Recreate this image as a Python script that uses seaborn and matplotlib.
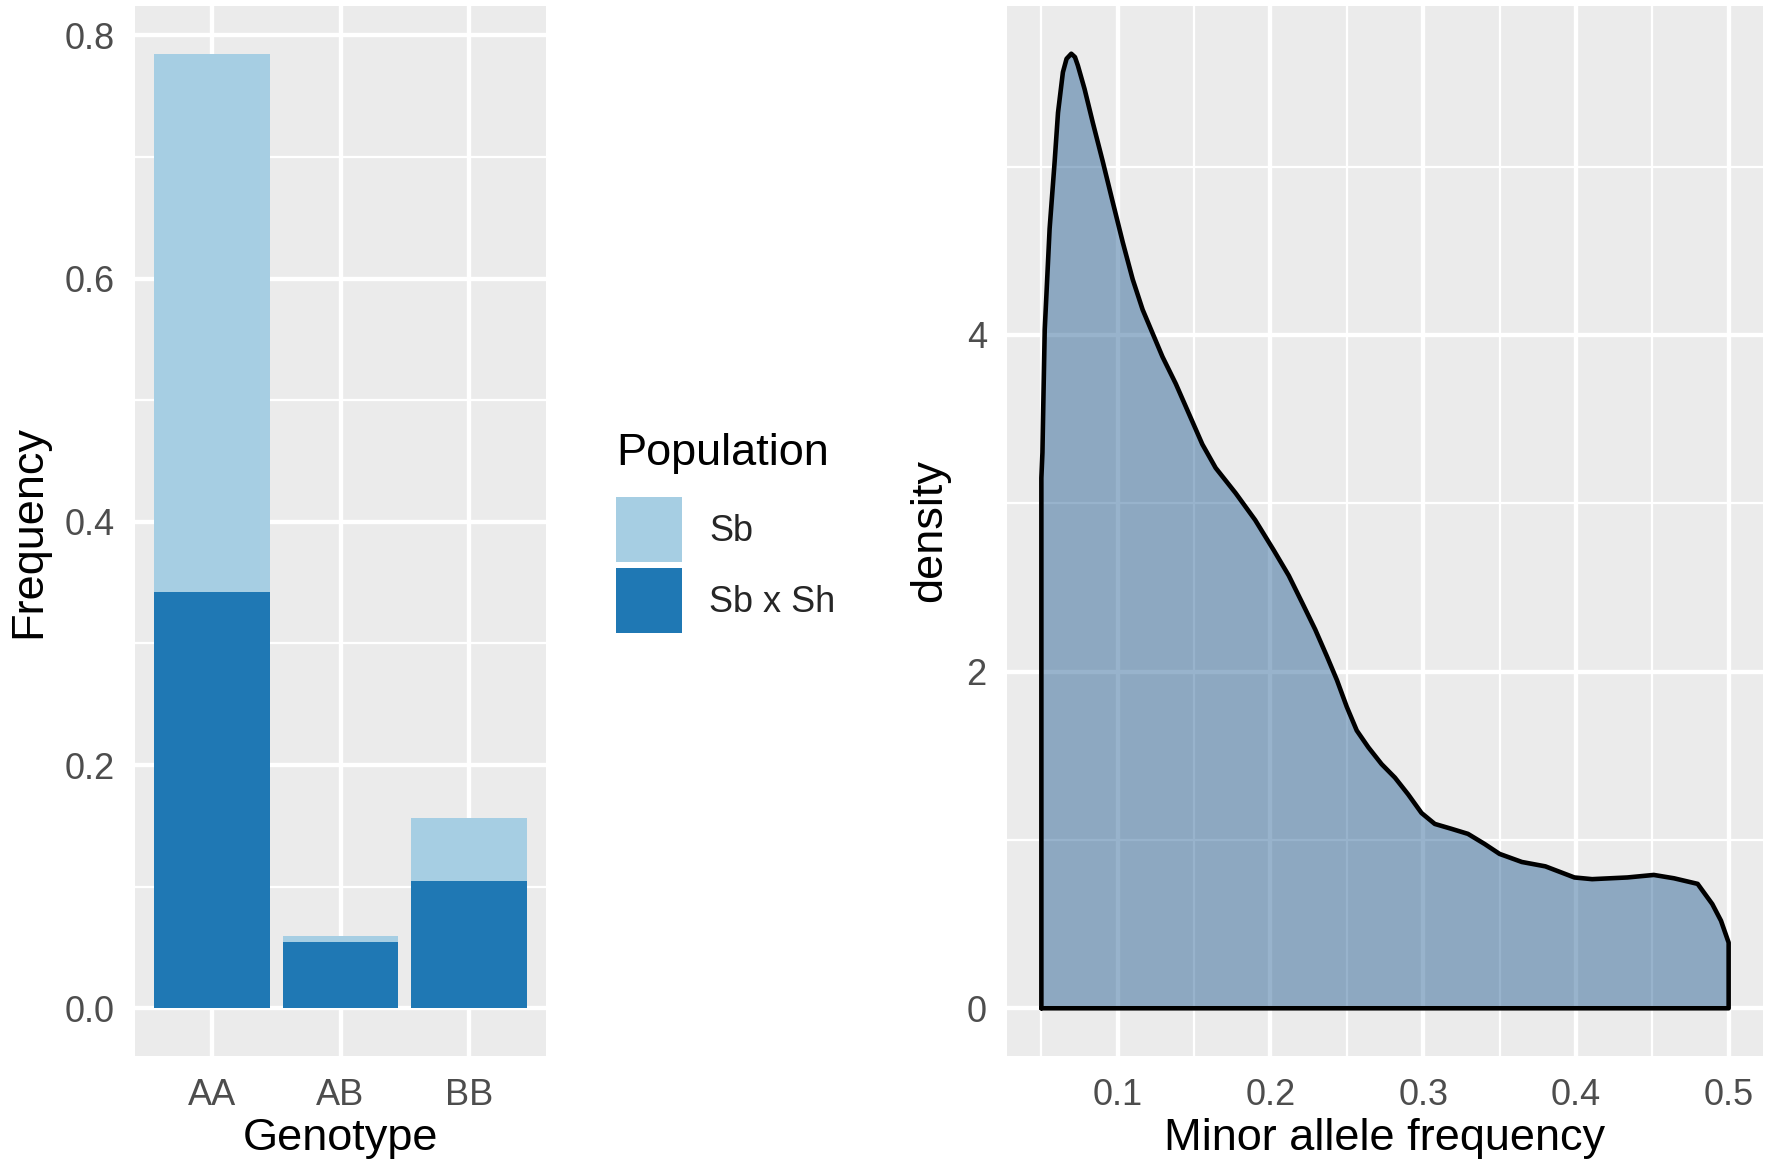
import numpy as np
import pandas as pd
import matplotlib
matplotlib.use("Agg")
import matplotlib.pyplot as plt
from matplotlib.patches import Patch
from matplotlib.ticker import FixedLocator
import seaborn as sns

# ---------------- data ----------------
genotypes = ["AA", "AB", "BB"]
freq_sb = [0.4425, 0.0044, 0.0516]      # Sb (stacked on top)
freq_sbxsh = [0.3425, 0.0547, 0.1050]   # Sb x Sh (bottom)
populations = ["Sb", "Sb x Sh"]

maf_x = [0.0500, 0.0507, 0.0514, 0.0522, 0.0554, 0.0587, 0.0609, 0.0641, 0.0665,
         0.0696, 0.0720, 0.0739, 0.0783, 0.0837, 0.0902, 0.0967, 0.1033, 0.1098,
         0.1163, 0.1228, 0.1293, 0.1380, 0.1467, 0.1554, 0.1641, 0.1772, 0.1900,
         0.2022, 0.2120, 0.2207, 0.2293, 0.2370, 0.2435, 0.2500, 0.2565, 0.2641,
         0.2728, 0.2815, 0.2902, 0.2989, 0.3076, 0.3185, 0.3293, 0.3402, 0.3500,
         0.3646, 0.3800, 0.3990, 0.4106, 0.4337, 0.4510, 0.4643, 0.4797, 0.4893,
         0.4950, 0.5000]
maf_density = [3.15, 3.30, 3.65, 4.03, 4.63, 5.03, 5.32, 5.56, 5.64,
               5.67, 5.65, 5.60, 5.46, 5.26, 5.03, 4.79, 4.55, 4.33,
               4.15, 4.01, 3.87, 3.71, 3.53, 3.35, 3.21, 3.06, 2.90,
               2.72, 2.57, 2.41, 2.25, 2.09, 1.95, 1.79, 1.65, 1.55,
               1.45, 1.37, 1.27, 1.16, 1.095, 1.066, 1.036, 0.976, 0.917,
               0.869, 0.843, 0.777, 0.767, 0.777, 0.792, 0.772, 0.739, 0.619,
               0.52, 0.39]

# ---------------- style ----------------
sns.set_theme(style="darkgrid")
plt.rcParams["font.family"] = ["Liberation Sans", "DejaVu Sans"]
PANEL = "#EBEBEB"
LIGHT = "#A6CEE3"
DARK = "#1F78B4"
TICKCOL = "#4D4D4D"
FILL = (28 / 255, 88 / 255, 142 / 255, 0.45)

W, H = 1773, 1173
fig = plt.figure(figsize=(W / 100, H / 100), dpi=100)
fig.patch.set_facecolor("white")

ax1 = fig.add_axes([135 / W, 1 - 1056 / H, 411 / W, 1050 / H])
ax2 = fig.add_axes([1007 / W, 1 - 1056 / H, 756 / W, 1050 / H])

TICK_FS = 26
TITLE_FS = 32.5

def style_axis(ax):
    ax.set_facecolor(PANEL)
    for s in ax.spines.values():
        s.set_visible(False)
    ax.set_axisbelow(True)
    ax.grid(which="major", color="white", linewidth=3.1)
    ax.grid(which="minor", color="white", linewidth=1.6)
    ax.tick_params(which="major", length=8.5, width=2.4, color="#333333",
                   labelsize=TICK_FS, labelcolor=TICKCOL)
    ax.tick_params(axis="x", which="major", pad=7)
    ax.tick_params(axis="y", which="major", pad=6)
    ax.tick_params(which="minor", length=0)

# ---------------- left: stacked bars ----------------
df = pd.DataFrame({"Genotype": genotypes, "Sb": freq_sb, "Sb x Sh": freq_sbxsh})
df["total"] = df["Sb"] + df["Sb x Sh"]

sns.barplot(data=df, x="Genotype", y="total", color=LIGHT, saturation=1,
            width=0.9, errorbar=None, linewidth=0, ax=ax1)
sns.barplot(data=df, x="Genotype", y="Sb x Sh", color=DARK, saturation=1,
            width=0.9, errorbar=None, linewidth=0, ax=ax1)

style_axis(ax1)
ymax1 = df["total"].max()
ax1.set_ylim(-0.05 * ymax1, 1.05 * ymax1)
ax1.set_xlim(-0.6, 2.6)
ax1.yaxis.set_major_locator(FixedLocator([0, 0.2, 0.4, 0.6, 0.8]))
ax1.yaxis.set_minor_locator(FixedLocator([0.1, 0.3, 0.5, 0.7]))
ax1.set_yticklabels(["0.0", "0.2", "0.4", "0.6", "0.8"])
ax1.set_xlabel("Genotype", fontsize=TITLE_FS, color="black", labelpad=4)
ax1.set_ylabel("Frequency", fontsize=TITLE_FS, color="black", labelpad=11)

# legend
fig.text(616 / W, 1 - 465 / H, "Population", fontsize=TITLE_FS, color="black",
         ha="left", va="baseline")
handles = [Patch(facecolor=LIGHT, edgecolor="none"),
           Patch(facecolor=DARK, edgecolor="none")]
fs_px = TICK_FS * 100 / 72
hh = (65 / fs_px - 0.245) / 0.65
fig.legend(handles, populations, loc="upper left",
           bbox_to_anchor=(616 / W, 1 - 497 / H), frameon=False,
           borderpad=0, borderaxespad=0, fontsize=TICK_FS,
           handlelength=66 / fs_px, handleheight=hh,
           handletextpad=27 / fs_px, labelspacing=6 / fs_px)

# ---------------- right: density ----------------
ax2.fill_between(maf_x, maf_density, 0, facecolor=FILL, edgecolor="none", zorder=2)
outline_x = [maf_x[0]] + maf_x + [maf_x[-1], maf_x[0]]
outline_y = [0] + maf_density + [0, 0]
outline = pd.DataFrame({"x": outline_x, "y": outline_y})
sns.lineplot(data=outline, x="x", y="y", sort=False, estimator=None,
             color="black", linewidth=3.3, ax=ax2, zorder=3)
ax2.lines[-1].set_solid_joinstyle("round")

style_axis(ax2)
xmin, xmax = 0.05, 0.5
dx = xmax - xmin
ax2.set_xlim(xmin - 0.05 * dx, xmax + 0.05 * dx)
ymax2 = max(maf_density)
ax2.set_ylim(-0.05 * ymax2, 1.05 * ymax2)
ax2.xaxis.set_major_locator(FixedLocator([0.1, 0.2, 0.3, 0.4, 0.5]))
ax2.xaxis.set_minor_locator(FixedLocator([0.05, 0.15, 0.25, 0.35, 0.45]))
ax2.yaxis.set_major_locator(FixedLocator([0, 2, 4]))
ax2.yaxis.set_minor_locator(FixedLocator([1, 3, 5]))
ax2.set_xticklabels(["0.1", "0.2", "0.3", "0.4", "0.5"])
ax2.set_yticklabels(["0", "2", "4"])
ax2.set_xlabel("Minor allele frequency", fontsize=TITLE_FS, color="black", labelpad=4)
ax2.set_ylabel("density", fontsize=TITLE_FS, color="black", labelpad=12)

fig.savefig("out.png", dpi=100, facecolor="white")
